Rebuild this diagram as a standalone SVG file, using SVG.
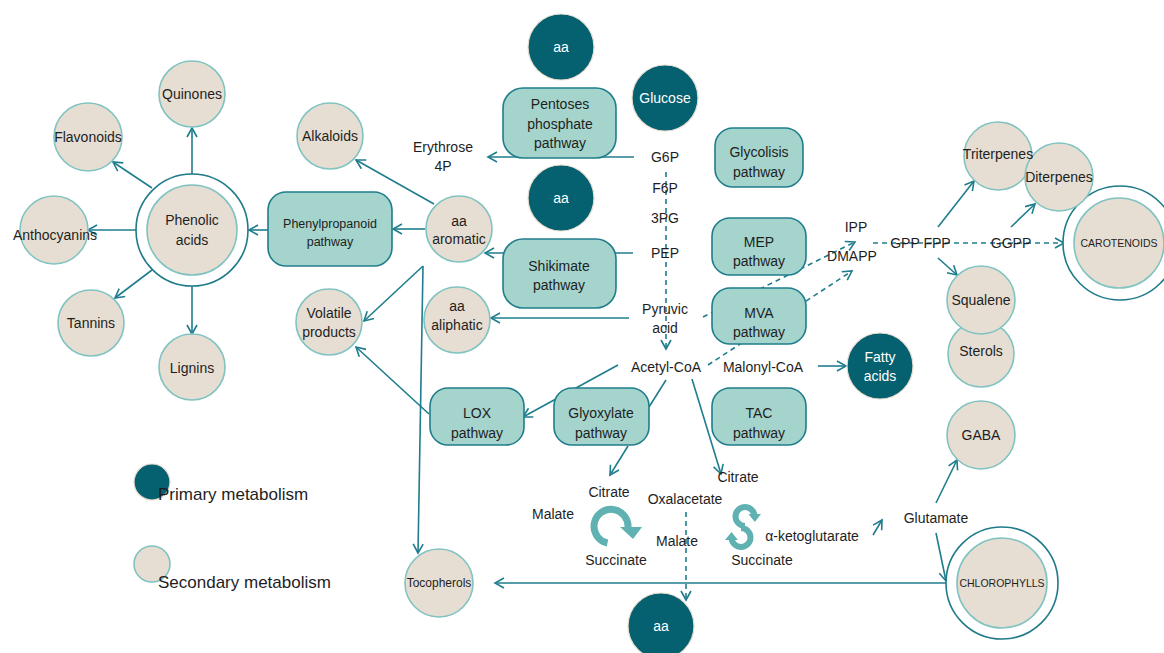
<svg xmlns="http://www.w3.org/2000/svg" width="1164" height="653" viewBox="0 0 1164 653">
<defs>
<style>
.t{font-family:"Liberation Sans",Arial,sans-serif;font-size:14px;fill:#1e1e1e;text-anchor:middle}
.w{fill:#ffffff}
.s{font-size:12.5px}
.cap{font-size:10.5px}
.lg{font-family:"Liberation Sans",Arial,sans-serif;font-size:17px;fill:#1e1e1e}
.pri{fill:#05606F;stroke:#E8DDD0;stroke-width:1.2}
.sec{fill:#E7DED3;stroke:#80C3C1;stroke-width:1.6}
.ring{fill:#ffffff;stroke:#1F7A8A;stroke-width:1.6}
.box{fill:#A4D4CC;stroke:#1F7D8C;stroke-width:1.6}
.c{fill:none;stroke:#1F7D8E;stroke-width:1.6;marker-end:url(#ah)}
.n{fill:none;stroke:#1F7D8E;stroke-width:1.6}
.d{fill:none;stroke:#1F7D8E;stroke-width:1.6;stroke-dasharray:5 4;marker-end:url(#ah)}
.cy{fill:none;stroke:#5FB2B1;stroke-width:7}
.cyh{fill:#5FB2B1}
</style>
<marker id="ah" viewBox="0 0 12 12" refX="10" refY="6" markerWidth="12" markerHeight="12" markerUnits="userSpaceOnUse" orient="auto">
<path d="M1,1 L10,6 L1,11" fill="none" stroke="#1F7D8E" stroke-width="1.6"/>
</marker>
</defs>
<rect width="1164" height="653" fill="#ffffff"/>

<g id="connectors">
<line class="c" x1="634" y1="157" x2="488" y2="157"/>
<line class="d" x1="666" y1="172" x2="666" y2="349"/>
<line class="c" x1="633" y1="253" x2="485" y2="253"/>
<line class="c" x1="629" y1="318" x2="491" y2="318"/>
<line class="c" x1="425" y1="229" x2="393" y2="229"/>
<line class="c" x1="268" y1="230" x2="249" y2="230"/>
<line class="c" x1="192" y1="174" x2="192" y2="128"/>
<line class="c" x1="152" y1="188" x2="113" y2="162"/>
<line class="c" x1="137" y1="230" x2="88" y2="230"/>
<line class="c" x1="152" y1="270" x2="115" y2="298"/>
<line class="c" x1="192" y1="286" x2="192" y2="334"/>
<line class="c" x1="434" y1="204" x2="356" y2="160"/>
<line class="c" x1="423" y1="266" x2="364" y2="321"/>
<line class="c" x1="423" y1="266" x2="418" y2="553"/>
<line class="c" x1="429" y1="414" x2="356" y2="347"/>
<line class="c" x1="618" y1="365" x2="523" y2="417"/>
<line class="n" x1="666" y1="380" x2="649" y2="407"/>
<line class="c" x1="628" y1="446" x2="610" y2="475"/>
<line class="c" x1="692" y1="379" x2="721" y2="474"/>
<line class="c" x1="818" y1="366" x2="846" y2="366"/>
<line class="d" x1="703" y1="317" x2="855" y2="242"/>
<line class="d" x1="708" y1="365" x2="852" y2="271"/>
<line class="d" x1="873" y1="243" x2="1064" y2="243"/>
<line class="c" x1="938" y1="227" x2="974" y2="181"/>
<line class="c" x1="938" y1="258" x2="957" y2="275"/>
<line class="c" x1="1011" y1="227" x2="1035" y2="204"/>
<line class="d" x1="686" y1="512" x2="686" y2="600"/>
<line class="c" x1="873" y1="535" x2="882" y2="520"/>
<line class="c" x1="936" y1="503" x2="957" y2="460"/>
<line class="c" x1="936" y1="533" x2="946" y2="581"/>
<line class="c" x1="946" y1="583" x2="495" y2="583"/>
</g>

<g id="aa-top"><circle class="pri" cx="561" cy="47" r="33"/><text class="t w" x="561" y="52">aa</text></g>
<g id="glucose"><circle class="pri" cx="665" cy="98" r="33"/><text class="t w" x="665" y="103">Glucose</text></g>
<g id="pentoses"><rect class="box" x="503" y="88" width="113" height="70" rx="20"/><text class="t" x="560" y="109">Pentoses</text><text class="t" x="560" y="129">phosphate</text><text class="t" x="560" y="148">pathway</text></g>
<g id="aa-mid"><circle class="pri" cx="561" cy="198" r="33"/><text class="t w" x="561" y="203">aa</text></g>
<g id="glycolisis"><rect class="box" x="715" y="128" width="88" height="59" rx="18"/><text class="t" x="759" y="157">Glycolisis</text><text class="t" x="759" y="177">pathway</text></g>
<g id="mep"><rect class="box" x="712" y="218" width="94" height="57" rx="18"/><text class="t" x="759" y="247">MEP</text><text class="t" x="759" y="266">pathway</text></g>
<g id="mva"><rect class="box" x="712" y="288" width="94" height="56" rx="18"/><text class="t" x="759" y="318">MVA</text><text class="t" x="759" y="337">pathway</text></g>
<g id="tac"><rect class="box" x="712" y="388" width="94" height="57" rx="18"/><text class="t" x="759" y="418">TAC</text><text class="t" x="759" y="438">pathway</text></g>
<g id="shikimate"><rect class="box" x="503" y="239" width="113" height="69" rx="20"/><text class="t" x="559" y="271">Shikimate</text><text class="t" x="559" y="290">pathway</text></g>
<g id="glyoxylate"><rect class="box" x="554" y="388" width="95" height="57" rx="18"/><text class="t" x="601" y="418">Glyoxylate</text><text class="t" x="601" y="438">pathway</text></g>
<g id="lox"><rect class="box" x="430" y="388" width="94" height="57" rx="18"/><text class="t" x="477" y="418">LOX</text><text class="t" x="477" y="438">pathway</text></g>
<g id="phenylpropanoid"><rect class="box" x="268" y="192" width="124" height="74" rx="18"/><text class="t s" x="330" y="228">Phenylpropanoid</text><text class="t s" x="330" y="246">pathway</text></g>
<g id="aa-aromatic"><circle class="sec" cx="459" cy="229" r="33"/><text class="t" x="459" y="226">aa</text><text class="t" x="459" y="244">aromatic</text></g>
<g id="aa-aliphatic"><circle class="sec" cx="457" cy="320" r="33"/><text class="t" x="457" y="311">aa</text><text class="t" x="457" y="330">aliphatic</text></g>
<g id="alkaloids"><circle class="sec" cx="330" cy="136" r="33"/><text class="t" x="330" y="141">Alkaloids</text></g>
<g id="volatile"><circle class="sec" cx="329" cy="322" r="33"/><text class="t" x="329" y="318">Volatile</text><text class="t" x="329" y="337">products</text></g>
<g id="phenolic"><circle class="ring" cx="192" cy="230" r="56"/><circle class="sec" cx="192" cy="230" r="45"/><text class="t" x="192" y="225">Phenolic</text><text class="t" x="192" y="245">acids</text></g>
<g id="quinones"><circle class="sec" cx="192" cy="94" r="33"/><text class="t" x="192" y="99">Quinones</text></g>
<g id="flavonoids"><circle class="sec" cx="88" cy="137" r="34"/><text class="t" x="88" y="142">Flavonoids</text></g>
<g id="anthocyanins"><circle class="sec" cx="54" cy="230" r="34"/><text class="t" x="55" y="240">Anthocyanins</text></g>
<g id="tannins"><circle class="sec" cx="91" cy="323" r="33"/><text class="t" x="91" y="328">Tannins</text></g>
<g id="lignins"><circle class="sec" cx="192" cy="367" r="33"/><text class="t" x="192" y="373">Lignins</text></g>
<g id="tocopherols"><circle class="sec" cx="439" cy="583" r="34"/><text class="t" style="font-size:12px" x="439" y="587">Tocopherols</text></g>
<g id="aa-bottom"><circle class="pri" cx="661" cy="626" r="33"/><text class="t w" x="661" y="631">aa</text></g>
<g id="fatty-acids"><circle class="pri" cx="880" cy="366" r="33"/><text class="t w" x="880" y="362">Fatty</text><text class="t w" x="880" y="381">acids</text></g>
<g id="triterpenes"><circle class="sec" cx="998" cy="156" r="34"/></g>
<g id="carotenoids"><circle class="ring" cx="1120" cy="243" r="57"/><circle class="sec" cx="1119" cy="243" r="45"/><text class="t cap" x="1119" y="247">CAROTENOIDS</text></g>
<g id="diterpenes"><circle class="sec" cx="1059" cy="177" r="34"/><text class="t" x="1059" y="182">Diterpenes</text></g>
<g id="triterpenes-label"><text class="t" x="998" y="159">Triterpenes</text></g>
<g id="sterols"><circle class="sec" cx="981" cy="354" r="33"/><text class="t" x="981" y="356">Sterols</text></g>
<g id="squalene"><circle class="sec" cx="981" cy="300" r="34"/><text class="t" x="981" y="305">Squalene</text></g>
<g id="gaba"><circle class="sec" cx="981" cy="435" r="34"/><text class="t" x="981" y="440">GABA</text></g>
<g id="chlorophylls"><circle class="ring" cx="1002" cy="583" r="56"/><circle class="sec" cx="1002" cy="583" r="45"/><text class="t cap" x="1002" y="587">CHLOROPHYLLS</text></g>

<g id="metabolites">
<text class="t" x="443" y="152">Erythrose</text>
<text class="t" x="443" y="171">4P</text>
<text class="t" x="665" y="162">G6P</text>
<text class="t" x="665" y="193">F6P</text>
<text class="t" x="665" y="223">3PG</text>
<text class="t" x="665" y="258">PEP</text>
<text class="t" x="665" y="314">Pyruvic</text>
<text class="t" x="665" y="333">acid</text>
<text class="t" x="666" y="372">Acetyl-CoA</text>
<text class="t" x="763" y="372">Malonyl-CoA</text>
<text class="t" x="856" y="232">IPP</text>
<text class="t" x="852" y="261">DMAPP</text>
<text class="t" x="905" y="248">GPP</text>
<text class="t" x="937" y="248">FPP</text>
<text class="t" x="1011" y="248">GGPP</text>
<text class="t" x="609" y="497">Citrate</text>
<text class="t" x="553" y="519">Malate</text>
<text class="t" x="616" y="565">Succinate</text>
<text class="t" x="685" y="504">Oxalacetate</text>
<text class="t" x="677" y="546">Malate</text>
<text class="t" x="738" y="482">Citrate</text>
<text class="t" x="812" y="541">α-ketoglutarate</text>
<text class="t" x="762" y="565">Succinate</text>
<text class="t" x="936" y="523">Glutamate</text>
</g>

<g id="cycle-left">
<path class="cy" d="M607.5,543 A17,17 0 1 1 628,527.5"/>
<polygon class="cyh" points="620,527 642,527 633,539"/>
</g>
<g id="cycle-right">
<path class="cy" style="stroke-width:6" d="M745,526 A9.5,9.5 0 1 1 754.5,516.5"/>
<polygon class="cyh" points="748.5,514 761,514 754.8,522"/>
<path class="cy" style="stroke-width:6" d="M741,528 A9.5,9.5 0 1 1 731.5,537.5"/>
<polygon class="cyh" points="725,540 738,540 731.5,532"/>
</g>

<g id="legend">
<circle class="pri" cx="152" cy="482" r="18"/>
<text class="lg" x="158" y="500">Primary metabolism</text>
<circle class="sec" cx="152" cy="564" r="18"/>
<text class="lg" x="158" y="588">Secondary metabolism</text>
</g>
</svg>
